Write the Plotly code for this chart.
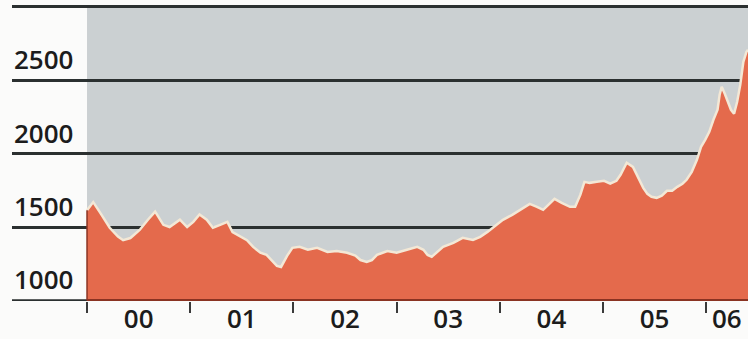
import plotly.graph_objects as go

# Price series, decimal years
years = [
    2000.00, 2000.06, 2000.13, 2000.22, 2000.30, 2000.35, 2000.42, 2000.51, 2000.59, 2000.66,
    2000.74, 2000.80, 2000.90, 2000.97, 2001.03, 2001.09, 2001.16, 2001.22, 2001.29, 2001.36,
    2001.41, 2001.48, 2001.55, 2001.61, 2001.68, 2001.74, 2001.79, 2001.84, 2001.88, 2001.94,
    2001.99, 2002.06, 2002.14, 2002.23, 2002.33, 2002.42, 2002.52, 2002.60, 2002.65, 2002.71,
    2002.76, 2002.81, 2002.91, 2003.00, 2003.10, 2003.20, 2003.26, 2003.30, 2003.34, 2003.39,
    2003.45, 2003.55, 2003.64, 2003.74, 2003.81, 2003.88, 2003.95, 2004.03, 2004.12, 2004.20,
    2004.29, 2004.36, 2004.42, 2004.48, 2004.53, 2004.60, 2004.68, 2004.73, 2004.78, 2004.82,
    2004.87, 2004.94, 2005.01, 2005.07, 2005.13, 2005.17, 2005.23, 2005.29, 2005.34, 2005.39,
    2005.43, 2005.47, 2005.52, 2005.57, 2005.62, 2005.67, 2005.72, 2005.77, 2005.81, 2005.86,
    2005.91, 2005.95, 2005.99, 2006.03, 2006.07, 2006.11, 2006.13, 2006.15, 2006.18, 2006.21,
    2006.24, 2006.27, 2006.30, 2006.33, 2006.36, 2006.39, 2006.405,
]
values = [
    1615, 1670, 1595, 1495, 1435, 1410, 1425, 1480, 1550, 1605,
    1515, 1500, 1550, 1500, 1535, 1585, 1550, 1495, 1515, 1535,
    1465, 1435, 1410, 1365, 1325, 1310, 1275, 1235, 1228, 1305,
    1358, 1365, 1345, 1358, 1330, 1337, 1325, 1305, 1275, 1262,
    1275, 1310, 1337, 1325, 1345, 1365, 1345, 1310, 1297, 1330,
    1365, 1392, 1426, 1412, 1433, 1467, 1508, 1549, 1583, 1617,
    1658, 1638, 1617, 1658, 1692, 1665, 1638, 1638, 1719, 1808,
    1801, 1808, 1815, 1795, 1815, 1856, 1938, 1910, 1842, 1767,
    1726, 1706, 1699, 1713, 1747, 1747, 1774, 1795, 1822, 1876,
    1958, 2047, 2094, 2149, 2231, 2299, 2401, 2456, 2408, 2347,
    2299, 2272, 2354, 2470, 2626, 2694, 2708,
]

y_grid = [1000, 1500, 2000, 2500, 3000]
y_labels = ["1000", "1500", "2000", "2500", ""]
year_ticks = [2000, 2001, 2002, 2003, 2004, 2005, 2006]
label_pos = [2000.5, 2001.5, 2002.5, 2003.5, 2004.5, 2005.5, 2006.2]
label_text = ["00", "01", "02", "03", "04", "05", "06"]

x_min, x_max = 1999.273, 2006.405
y_min, y_max = 996, 3047

FILL = "#e46a4c"
PANEL = "#cbd0d2"
GRID = "#2b3030"
TEXT = "#1c1c1c"
FONT = "Open Sans"

fig = go.Figure()
fig.add_trace(go.Scatter(
    x=years, y=values, mode="lines", fill="tozeroy",
    fillcolor=FILL, line=dict(color="#f3e8d6", width=2.5),
    hoverinfo="skip", showlegend=False,
))

shapes = [
    # shaded panel behind the series
    dict(type="rect", xref="x", yref="y", x0=years[0], x1=x_max, y0=1000, y1=3000,
         fillcolor=PANEL, line=dict(width=0), layer="below"),
    # baseline
    dict(type="line", xref="x", yref="y", x0=x_min, x1=years[0], y0=1000, y1=1000,
         line=dict(color=GRID, width=2.5), layer="above"),
    dict(type="line", xref="x", yref="y", x0=years[0], x1=x_max, y0=1000, y1=1000,
         line=dict(color="#8a3322", width=3), layer="above"),
    # left edge of the filled area
    dict(type="line", xref="x", yref="y", x0=years[0], x1=years[0], y0=1000, y1=values[0],
         line=dict(color="#8a3322", width=1.5), layer="above"),
]

annotations = []
for v, t in zip(y_grid, y_labels):
    if t:
        annotations.append(dict(
            x=0, xref="paper", xanchor="left", y=v, yref="y", yanchor="bottom",
            yshift=1, text=t, showarrow=False,
            font=dict(family=FONT, size=26, color=TEXT, weight=600),
        ))

fig.update_layout(
    width=748, height=339,
    margin=dict(l=12, r=0, t=0, b=38),
    paper_bgcolor="#fbfbfa", plot_bgcolor="rgba(0,0,0,0)",
    shapes=shapes, annotations=annotations,
    xaxis=dict(
        range=[x_min, x_max], showgrid=False, zeroline=False, showline=False,
        tickmode="array", tickvals=label_pos, ticktext=label_text, ticks="",
        tickfont=dict(family=FONT, size=26, color=TEXT, weight=600),
        minor=dict(tickmode="array", tickvals=year_ticks, ticks="outside",
                   ticklen=11, tickwidth=1.5, tickcolor="#3a3a3a", showgrid=False),
    ),
    yaxis=dict(
        range=[y_min, y_max], showgrid=True, gridcolor=GRID, gridwidth=2.5,
        zeroline=False, showline=False, tickmode="array", tickvals=y_grid,
        showticklabels=False, ticks="",
    ),
)

fig.write_html("out.html")
